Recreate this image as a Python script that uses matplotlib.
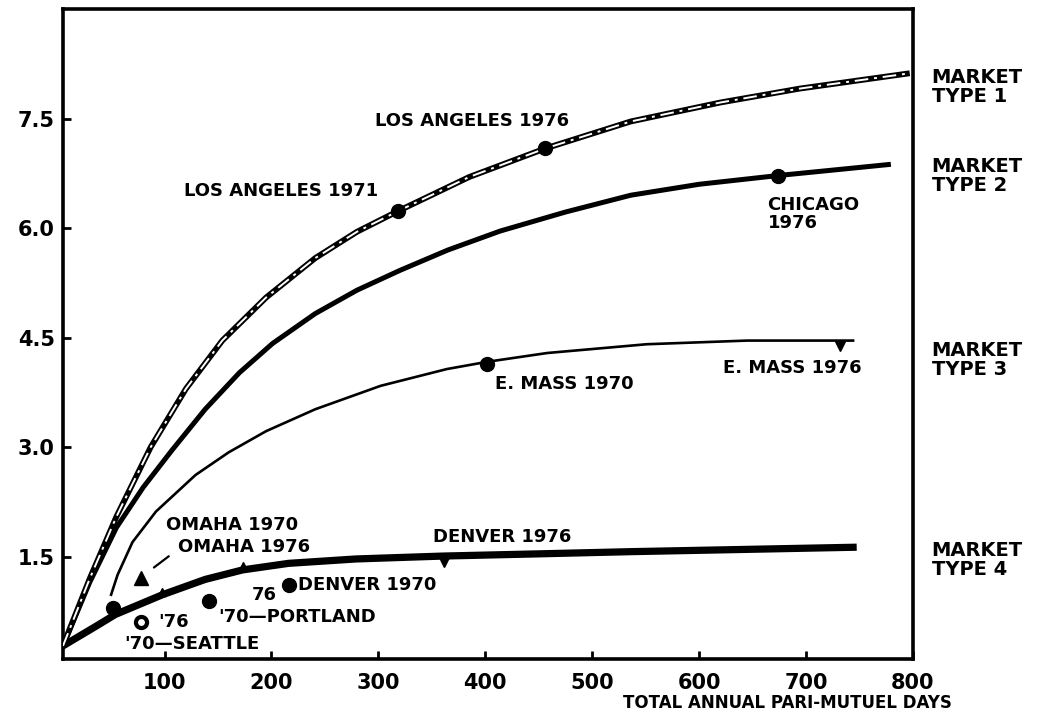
import matplotlib.pyplot as plt
from matplotlib.transforms import blended_transform_factory

plt.rcParams["font.family"] = ["DejaVu Sans"]
plt.rcParams["font.weight"] = "bold"

# ── curves (x = annual pari-mutuel days, y = value) ──
TYPE1_X = [5, 30, 55, 87, 120, 154, 195, 241, 280, 318, 385, 456, 536, 620, 694, 797]
TYPE1_Y = [0.28, 1.20, 2.05, 3.00, 3.80, 4.46, 5.05, 5.59, 5.95, 6.23, 6.70, 7.09, 7.46, 7.72, 7.91, 8.12]

TYPE2_X = [5, 30, 55, 80, 107, 138, 170, 201, 241, 280, 320, 365, 414, 475, 536, 600, 674, 777]
TYPE2_Y = [0.28, 1.15, 1.90, 2.45, 2.96, 3.52, 4.02, 4.42, 4.83, 5.15, 5.42, 5.70, 5.96, 6.22,
           6.45, 6.60, 6.72, 6.87]

TYPE3_X = [50, 56, 70, 92, 129, 160, 195, 241, 302, 364, 402, 458, 551, 645, 744]
TYPE3_Y = [0.98, 1.25, 1.70, 2.12, 2.62, 2.93, 3.22, 3.52, 3.84, 4.07, 4.17, 4.29, 4.41, 4.46, 4.46]

TYPE4_X = [5, 36, 54, 98, 138, 173, 216, 279, 361, 450, 536, 744]
TYPE4_Y = [0.28, 0.55, 0.71, 0.98, 1.19, 1.32, 1.41, 1.47, 1.51, 1.54, 1.57, 1.63]

# market observations (filled dots)
DOT_NAMES = ["LA 1971", "LA 1976", "CHICAGO 1976", "E. MASS 1970", "DENVER 1970",
             "PORTLAND 1970", "OMAHA 1970"]
DOT_X = [318, 456, 674, 402, 216, 142, 52]
DOT_Y = [6.23, 7.09, 6.72, 4.14, 1.12, 0.89, 0.80]

# small marks sitting under a curve
DOWN_NAMES = ["E. MASS 1976", "DENVER 1976"]
DOWN_X = [732, 361]
DOWN_Y = [4.38, 1.43]

# small marks on top of a curve
UP_NAMES = ["OMAHA 1976", "SEATTLE 1976", "PORTLAND 1976"]
UP_X = [78, 98, 173]
UP_Y = [1.21, 1.02, 1.37]
UP_SIZE = [10, 6, 6]

SEATTLE70_X = [78]
SEATTLE70_Y = [0.61]

Y_TICKS = [1.5, 3.0, 4.5, 6.0, 7.5]
Y_TICK_LABELS = ["1.5", "3.0", "4.5", "6.0", "7.5"]
X_TICKS = [100, 200, 300, 400, 500, 600, 700, 800]
X_TICK_LABELS = ["100", "200", "300", "400", "500", "600", "700", "800"]

MARKET_LABELS = ["MARKET\nTYPE 1", "MARKET\nTYPE 2", "MARKET\nTYPE 3", "MARKET\nTYPE 4"]
MARKET_LABEL_Y = [7.93, 6.72, 4.19, 1.46]

fig = plt.figure(figsize=(10.41, 7.25), dpi=100)
ax = fig.add_axes([0.0605, 0.091, 0.8165, 0.8966])

# curves
ax.plot(TYPE1_X, TYPE1_Y, color="black", lw=4.2, solid_capstyle="butt", zorder=3)
ax.plot(TYPE1_X, TYPE1_Y, color="white", lw=1.4, linestyle=(0, (7, 3, 1.5, 3)), zorder=4)
ax.plot(TYPE2_X, TYPE2_Y, color="black", lw=3.6, zorder=3)
ax.plot(TYPE3_X, TYPE3_Y, color="black", lw=1.9, zorder=3)
ax.plot(TYPE4_X, TYPE4_Y, color="black", lw=5.2, zorder=3)

# markers
ax.plot(DOT_X, DOT_Y, "o", color="black", ms=10, zorder=5)
ax.plot(DOWN_X, DOWN_Y, "v", color="black", ms=7, zorder=5)
for ux, uy, us in zip(UP_X, UP_Y, UP_SIZE):
    ax.plot(ux, uy, "^", color="black", ms=us, zorder=5)
ax.plot(SEATTLE70_X, SEATTLE70_Y, "o", color="black", mfc="white", mew=3, ms=8, zorder=5)

# annotations
fs = 13
ax.text(118, 6.51, "LOS ANGELES 1971", fontsize=fs, va="center")
ax.text(297, 7.46, "LOS ANGELES 1976", fontsize=fs, va="center")
ax.text(664, 6.19, "CHICAGO\n1976", fontsize=fs, va="center", linespacing=1.0)
ax.text(409, 3.87, "E. MASS 1970", fontsize=fs, va="center")
ax.text(622, 4.09, "E. MASS 1976", fontsize=fs, va="center")
ax.text(351, 1.77, "DENVER 1976", fontsize=fs, va="center")
ax.text(225, 1.12, "DENVER 1970", fontsize=fs, va="center")
ax.text(101, 1.94, "OMAHA 1970", fontsize=fs, va="center")
ax.text(113, 1.64, "OMAHA 1976", fontsize=fs, va="center")
ax.annotate("", xy=(88, 1.33), xytext=(106, 1.53),
            arrowprops=dict(arrowstyle="-", lw=1.6, color="black"))
ax.text(94, 0.61, "'76", fontsize=fs, va="center")
ax.text(62, 0.31, "'70\u2014SEATTLE", fontsize=fs, va="center")
ax.text(182, 0.97, "76", fontsize=fs, va="center")
ax.text(150, 0.68, "'70\u2014PORTLAND", fontsize=fs, va="center")

# market type labels outside the right spine
trans = blended_transform_factory(ax.transAxes, ax.transData)
for lab, yy in zip(MARKET_LABELS, MARKET_LABEL_Y):
    ax.text(1.022, yy, lab, transform=trans, fontsize=14, va="center",
            linespacing=1.0, clip_on=False)

ax.set_xlim(5, 800)
ax.set_ylim(0.1, 9.0)
ax.set_xticks(X_TICKS)
ax.set_xticklabels(X_TICK_LABELS, fontsize=15)
ax.set_yticks(Y_TICKS)
ax.set_yticklabels(Y_TICK_LABELS, fontsize=15)
ax.tick_params(direction="in", length=6, width=2)
ax.tick_params(axis="x", pad=10)
ax.tick_params(axis="y", pad=6)
for sp in ax.spines.values():
    sp.set_linewidth(2.6)

fig.text(0.756, 0.030, "TOTAL ANNUAL PARI-MUTUEL DAYS", fontsize=12,
         ha="center", va="center")

fig.savefig("out.png", dpi=100)
